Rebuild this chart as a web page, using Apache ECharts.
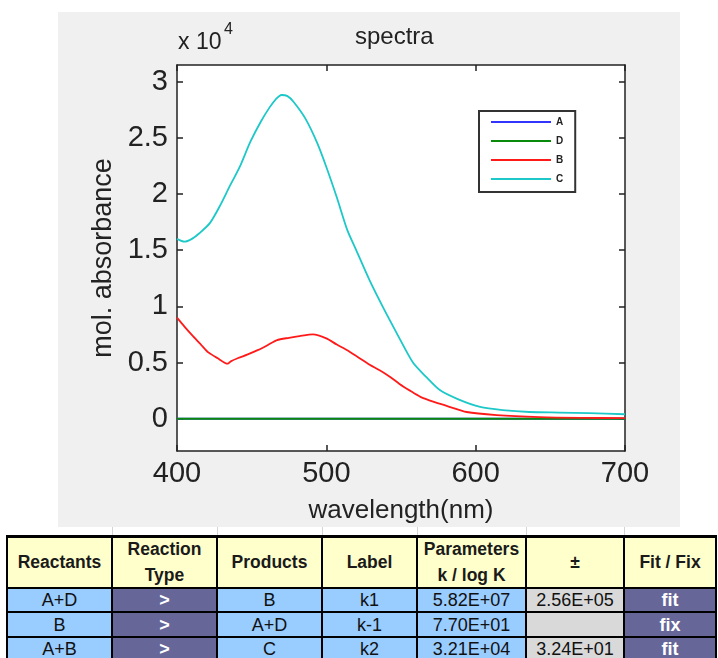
<!DOCTYPE html>
<html><head><meta charset="utf-8">
<script src="https://cdn.jsdelivr.net/npm/echarts@6/dist/echarts.min.js"></script>
<style>
html,body{margin:0;padding:0;background:#fff;width:718px;height:658px;overflow:hidden;font-family:'Liberation Sans',Arial,sans-serif;}
#bg{position:absolute;left:58px;top:12px;width:622px;height:515px;background:#f0f0f0;}
#chart{position:absolute;left:0;top:0;width:718px;height:530px;}
#tbl{position:absolute;left:0;top:0;width:718px;height:658px;}
.cell{position:absolute;box-sizing:border-box;display:flex;align-items:center;justify-content:center;text-align:center;color:#111;font-size:18px;line-height:20px;}
.hl{position:absolute;background:#000;}
.gl{position:absolute;background:#d4d4d4;}
</style></head>
<body>
<div id="bg"></div>
<div id="chart"></div>
<div id="tbl"></div>
<script>
// ---- spectra data (wavelength nm, molar absorbance) ----
const wlC  = [400,405,410,415,422,429,435,442,449,456,462,466,470,474,478,486,494,500,507,514,520,529,538,548,558,567,576,588,603,618,636,656,676,700];
const absC = [16000,15750,16000,16500,17400,19000,20600,22400,24600,26400,27700,28400,28800,28700,28200,26700,24500,22400,19700,16800,15000,12300,9900,7400,5000,3700,2550,1750,1050,770,600,550,500,400];
const wlB  = [400,405,411,416,421,427,434,436,441,447,454,460,467,475,482,491,500,507,514,521,529,536,543,549,556,563,572,581,594,614,643,670,700];
const absB = [9000,8200,7300,6600,5900,5400,4900,5100,5400,5700,6100,6500,7000,7200,7350,7500,7150,6600,6100,5500,4800,4300,3700,3100,2500,1950,1500,1130,600,330,150,80,50];
const wlA  = [400,700];
const absA = [0,0];
const wlD  = [400,700];
const absD = [0,0];
const seriesNames = ['A','D','B','C'];
const yTicks = [0,5000,10000,15000,20000,25000,30000];

// ---- table data ----
const tblHeaders  = ['Reactants','Reaction<br>Type','Products','Label','Parameters<br>k / log K','±','Fit / Fix'];
const tblReactants = ['A+D','B','A+B'];
const tblType      = ['>','>','>'];
const tblProducts  = ['B','A+D','C'];
const tblLabels    = ['k1','k-1','k2'];
const tblParams    = ['5.82E+07','7.70E+01','3.21E+04'];
const tblErrors    = ['2.56E+05','','3.24E+01'];
const tblFit       = ['fit','fix','fit'];

const FONT = "'Liberation Sans', Arial, sans-serif";
const AX = '#222';
const zip = (xs, ys) => xs.map((x, i) => [x, ys[i]]);

const chart = echarts.init(document.getElementById('chart'), null, {renderer:'canvas'});
const axisCommon = {
  type:'value', min:400, max:700, interval:100,
  axisLine:{show:true, onZero:false, lineStyle:{color:AX, width:1.5}},
  axisTick:{show:true, inside:true, length:6, lineStyle:{color:AX, width:1.5}},
  splitLine:{show:false}
};
const yCommon = {
  type:'value', min:-2870, max:31470,
  axisLine:{show:true, onZero:false, lineStyle:{color:AX, width:1.5}},
  axisTick:{show:true, inside:true, length:6, customValues:yTicks, lineStyle:{color:AX, width:1.5}},
  splitLine:{show:false}
};
chart.setOption({
  animation:false,
  textStyle:{fontFamily:FONT},
  graphic:[
    {type:'text', left:355, top:25, style:{text:'spectra', font:'24px '+FONT, fill:AX}},
    {type:'text', left:178, top:31, style:{text:'x 10', font:'23px '+FONT, fill:AX}},
    {type:'text', left:224, top:22, style:{text:'4', font:'16px '+FONT, fill:AX}}
  ],
  grid:{left:177, top:65, width:448, height:386, show:true, backgroundColor:'#fff', borderWidth:0,
    outerBoundsMode:'none', containLabel:false},
  legend:{
    data:seriesNames, orient:'vertical', left:479, top:111,
    icon:'rect', itemWidth:60, itemHeight:2, itemGap:7,
    padding:[5,12,7,12], backgroundColor:'#fff', borderColor:'#333', borderWidth:2,
    textStyle:{fontFamily:FONT, fontSize:10, fontWeight:'bold', color:'#222', lineHeight:12},
    selectedMode:false
  },
  xAxis:[
    Object.assign({}, axisCommon, {position:'bottom',
      axisLabel:{show:true, fontSize:29, color:AX, margin:8, fontFamily:FONT},
      name:'wavelength(nm)', nameLocation:'middle', nameGap:47,
      nameTextStyle:{fontSize:26, color:AX, fontFamily:FONT}}),
    Object.assign({}, axisCommon, {position:'top', axisLabel:{show:false}})
  ],
  yAxis:[
    Object.assign({}, yCommon, {position:'left',
      axisLabel:{show:true, fontSize:29, color:AX, margin:9, fontFamily:FONT,
        customValues:yTicks, formatter:v => String(v/10000)},
      name:'mol. absorbance', nameLocation:'middle', nameGap:50, nameRotate:90,
      nameTextStyle:{fontSize:27, color:AX, fontFamily:FONT}}),
    Object.assign({}, yCommon, {position:'right', axisLabel:{show:false}})
  ],
  series:[
    {name:'A', type:'line', data:zip(wlA, absA), showSymbol:false, color:'#3333ff', lineStyle:{width:1.8}},
    {name:'D', type:'line', data:zip(wlD, absD), showSymbol:false, color:'#0a8a0a', lineStyle:{width:1.8}},
    {name:'B', type:'line', data:zip(wlB, absB), showSymbol:false, smooth:0.25, color:'#ff1a1a', lineStyle:{width:1.8}},
    {name:'C', type:'line', data:zip(wlC, absC), showSymbol:false, smooth:0.25, color:'#1cc8c8', lineStyle:{width:1.8}}
  ]
});

// ---- table ----
const colX = [7,112,217,322,417,526,624,716];
const rowY = [536,588,612,637,661];
const tbl = document.getElementById('tbl');
function addCell(c, r, html, bg, style){
  const d = document.createElement('div');
  d.className = 'cell';
  d.style.left = colX[c]+'px'; d.style.top = rowY[r]+'px';
  d.style.width = (colX[c+1]-colX[c])+'px'; d.style.height = (rowY[r+1]-rowY[r])+'px';
  d.style.background = bg;
  if (style) Object.assign(d.style, style);
  d.innerHTML = html;
  tbl.appendChild(d);
}
colX.slice(1,7).forEach(x => {
  const g = document.createElement('div'); g.className='gl';
  g.style.left=(x)+'px'; g.style.top='527px'; g.style.width='1px'; g.style.height='9px';
  tbl.appendChild(g);
});
tblHeaders.forEach((h, c) => addCell(c, 0, h, '#ffffcc', {fontWeight:'bold', color:'#1a1a1a', fontSize:'17.5px', lineHeight:'26px'}));
const BLUE='#99ccff', PURP='#666699', GREY='#d9d9d9';
for (let r = 0; r < 3; r++){
  addCell(0, r+1, tblReactants[r], BLUE);
  addCell(1, r+1, tblType[r], PURP, {color:'#fff', fontWeight:'bold'});
  addCell(2, r+1, tblProducts[r], BLUE);
  addCell(3, r+1, tblLabels[r], BLUE);
  addCell(4, r+1, tblParams[r], BLUE);
  addCell(5, r+1, tblErrors[r], GREY);
  addCell(6, r+1, tblFit[r], PURP, {color:'#fff', fontWeight:'bold'});
}
colX.forEach(x => {
  const l = document.createElement('div'); l.className='hl';
  l.style.left=(x-1)+'px'; l.style.top=(rowY[0]-1)+'px'; l.style.width='2px'; l.style.height=(rowY[4]-rowY[0]+2)+'px';
  tbl.appendChild(l);
});
rowY.forEach((y, i) => {
  const l = document.createElement('div'); l.className='hl';
  l.style.left=(colX[0]-1)+'px'; l.style.top=(y-1)+'px'; l.style.width=(colX[7]-colX[0]+2)+'px'; l.style.height=(i===0?3:2)+'px';
  tbl.appendChild(l);
});
</script>
</body></html>
